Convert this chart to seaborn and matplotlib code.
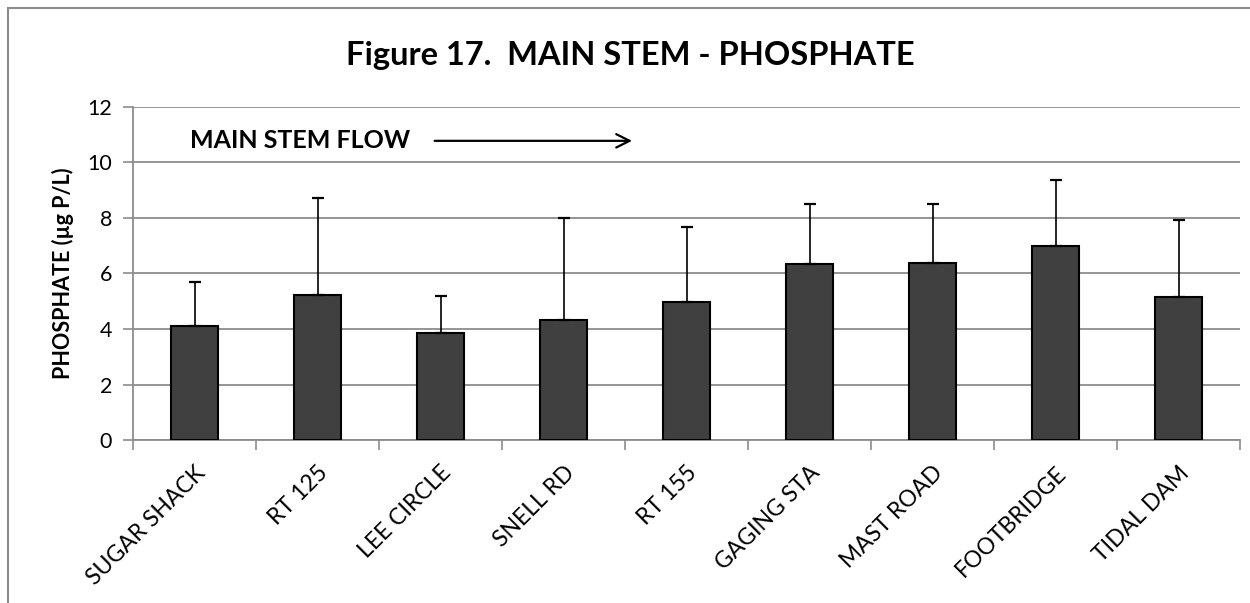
import numpy as np
import pandas as pd
import seaborn as sns
import matplotlib.pyplot as plt
import matplotlib.transforms as mtransforms
from matplotlib.patches import Rectangle

# values
sites = ['SUGAR SHACK', 'RT 125', 'LEE CIRCLE', 'SNELL RD', 'RT 155',
         'GAGING STA', 'MAST ROAD', 'FOOTBRIDGE', 'TIDAL DAM']
means = [4.12, 5.24, 3.86, 4.34, 4.98, 6.33, 6.36, 7.00, 5.17]
upper = [5.71, 8.72, 5.18, 7.99, 7.67, 8.52, 8.52, 9.38, 7.91]
errors = [u - m for u, m in zip(upper, means)]
y_ticks = [0, 2, 4, 6, 8, 10, 12]

sns.set_theme(style='white')
plt.rcParams['font.family'] = ['Lato', 'DejaVu Sans']
plt.rcParams['text.color'] = 'black'
plt.rcParams['xtick.color'] = 'black'
plt.rcParams['ytick.color'] = 'black'
plt.rcParams['axes.labelcolor'] = 'black'

df = pd.DataFrame({'site': sites, 'phosphate': means})

fig = plt.figure(figsize=(12.5, 6.03), dpi=100)
ax = fig.add_axes([0.1064, 0.2703, 0.8856, 0.5523])

sns.barplot(data=df, x='site', y='phosphate', color='#404040', width=0.39,
            edgecolor='black', linewidth=1.5, saturation=1, ax=ax, zorder=3)
ax.errorbar(np.arange(len(sites)), means, yerr=[np.zeros(len(sites)), errors],
            fmt='none', ecolor='black', elinewidth=1.2, capsize=4.5, capthick=1.6,
            zorder=4)

ax.set_ylim(0, 12)
ax.set_xlim(-0.5, len(sites) - 0.5)
ax.set_yticks(y_ticks)
ax.set_yticklabels([str(t) for t in y_ticks], fontsize=15.5)
ax.yaxis.grid(True, color='#8c8c8c', linewidth=1.3, zorder=0)
ax.set_axisbelow(True)

# x ticks at category boundaries, labels at centres
ax.set_xticks(np.arange(len(sites)))
ax.set_xticklabels(sites, rotation=45, ha='right', va='top',
                   rotation_mode='anchor', fontsize=16.5)
shift = mtransforms.ScaledTranslation(-9 / 72, 0, fig.dpi_scale_trans)
for lab in ax.get_xticklabels():
    lab.set_transform(lab.get_transform() + shift)
ax.set_xticks(np.arange(len(sites) + 1) - 0.5, minor=True)
ax.tick_params(axis='x', which='major', length=0, pad=16)
ax.tick_params(axis='x', which='minor', bottom=True, length=7, width=1.2,
               color='#8c8c8c')
ax.tick_params(axis='y', left=True, length=7, width=1.2, color='#8c8c8c', pad=8)

for side in ['top', 'right']:
    ax.spines[side].set_visible(False)
for side in ['left', 'bottom']:
    ax.spines[side].set_color('#8c8c8c')
    ax.spines[side].set_linewidth(1.3)

ax.set_xlabel('')
ax.set_ylabel('PHOSPHATE (µg P/L)', fontsize=15.5, fontweight='bold', labelpad=10)

ax.text(-0.04, 10.78, 'MAIN STEM FLOW', fontsize=18, fontweight='bold',
        va='center', ha='left')
ax.annotate('', xy=(3.58, 10.78), xytext=(1.93, 10.78),
            arrowprops=dict(arrowstyle='->', color='black', lw=1.6,
                            mutation_scale=24))

fig.text(0.504, 0.908, 'Figure 17.  MAIN STEM - PHOSPHATE', fontsize=23.5,
         fontweight='bold', ha='center', va='center')

# chart frame
fig.patches.append(Rectangle((8 / 1250, -0.1), 1.2, 1 - 8 / 603 + 0.1,
                             transform=fig.transFigure, fill=False,
                             edgecolor='#8c8c8c', linewidth=1.5))

fig.savefig('out.png', dpi=100)
